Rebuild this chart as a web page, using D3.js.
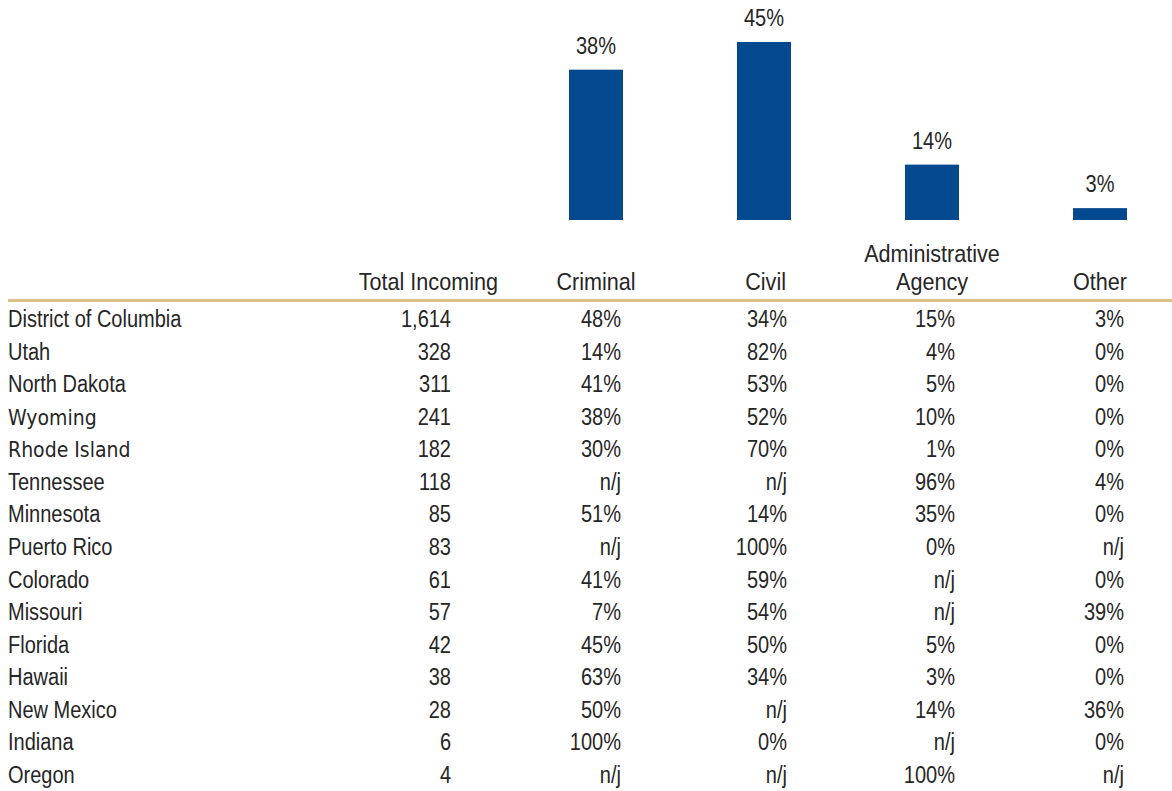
<!DOCTYPE html>
<html>
<head>
<meta charset="utf-8">
<script src="https://cdn.jsdelivr.net/npm/d3@7"></script>
<style>
  html, body { margin: 0; padding: 0; background: #fff; }
  svg { display: block; }
  text { font-family: "Liberation Sans", Arial, sans-serif; fill: #262626; }
</style>
</head>
<body>
<svg id="chart" width="1172" height="791"></svg>
<script>
// ---- data ----
const categories = ["Criminal", "Civil", "Administrative Agency", "Other"];
const overallShares = [38, 45, 14, 3];

const states = ["District of Columbia", "Utah", "North Dakota", "Wyoming", "Rhode Island", "Tennessee",
  "Minnesota", "Puerto Rico", "Colorado", "Missouri", "Florida", "Hawaii", "New Mexico", "Indiana", "Oregon"];
const totalIncoming = [1614, 328, 311, 241, 182, 118, 85, 83, 61, 57, 42, 38, 28, 6, 4];
// null = n/j (no jurisdiction)
const criminal = [48, 14, 41, 38, 30, null, 51, null, 41, 7, 45, 63, 50, 100, null];
const civil =    [34, 82, 53, 52, 70, null, 14, 100, 59, 54, 50, 34, null, 0, null];
const adminAgency = [15, 4, 5, 10, 1, 96, 35, 0, null, null, 5, 3, 14, null, 100];
const other =    [3, 0, 0, 0, 0, 4, 0, null, 0, 39, 0, 0, 36, 0, null];
const boldStates = ["Wyoming", "Rhode Island"];

// ---- layout ----
const svg = d3.select("#chart");
const fontSize = 23;
const sx = 0.87; // horizontal condensing to mimic a narrow typeface
const barColor = "#02498f";
const ruleColor = "#dcc18b";

// helper: condensed text positioned at (x, y)
function ctext(sel, x, y, anchor, str, size = fontSize, scale = sx) {
  return sel.append("text")
    .attr("transform", `translate(${x},${y}) scale(${scale},1)`)
    .attr("text-anchor", anchor)
    .attr("font-size", size)
    .text(str);
}

const xCenter = d3.scalePoint().domain(categories).range([596, 1100]);
const barW = 54;
const y = d3.scaleLinear().domain([0, 45]).range([220, 42]);

const barData = categories.map((c, i) => ({ c, v: overallShares[i] }));

// bars
svg.append("g").selectAll("rect")
  .data(barData)
  .join("rect")
  .attr("x", d => xCenter(d.c) - barW / 2)
  .attr("y", d => y(d.v))
  .attr("width", barW)
  .attr("height", d => y(0) - y(d.v))
  .attr("fill", barColor);

const barLabels = svg.append("g");
barData.forEach(d => ctext(barLabels, xCenter(d.c), y(d.v) - 16, "middle", d.v + "%"));

// headers
const headerBase = 290;
const hs = 24, hsx = 0.9;
const hdr = svg.append("g");
ctext(hdr, 498, headerBase, "end", "Total Incoming", hs, hsx);
ctext(hdr, xCenter("Criminal"), headerBase, "middle", "Criminal", hs, hsx);
ctext(hdr, 786, headerBase, "end", "Civil", hs, hsx);
ctext(hdr, xCenter("Administrative Agency"), headerBase - 28, "middle", "Administrative", hs, hsx);
ctext(hdr, xCenter("Administrative Agency"), headerBase, "middle", "Agency", hs, hsx);
ctext(hdr, xCenter("Other"), headerBase, "middle", "Other", hs, hsx);

// gold rule
svg.append("line").attr("x1", 8).attr("x2", 1172).attr("y1", 300.5).attr("y2", 300.5)
  .attr("stroke", ruleColor).attr("stroke-width", 3);

// rows
const rowY = d3.scalePoint().domain(states).range([327, 783]);
const fmtPct = v => v === null ? "n/j" : v + "%";
const fmtNum = d3.format(",");
const colRight = { total: 451, criminal: 621, civil: 787, admin: 955, other: 1124 };

const body = svg.append("g");
states.forEach((s, i) => {
  const yy = rowY(s);
  if (boldStates.includes(s)) {
    body.append("text")
      .attr("x", 8).attr("y", yy)
      .style("font-family", "'DejaVu Sans Condensed', 'DejaVu Sans', sans-serif")
      .attr("font-size", 21)
      .text(s);
  } else {
    ctext(body, 8, yy, "start", s);
  }
  ctext(body, colRight.total, yy, "end", fmtNum(totalIncoming[i]));
  ctext(body, colRight.criminal, yy, "end", fmtPct(criminal[i]));
  ctext(body, colRight.civil, yy, "end", fmtPct(civil[i]));
  ctext(body, colRight.admin, yy, "end", fmtPct(adminAgency[i]));
  ctext(body, colRight.other, yy, "end", fmtPct(other[i]));
});
</script>
</body>
</html>
